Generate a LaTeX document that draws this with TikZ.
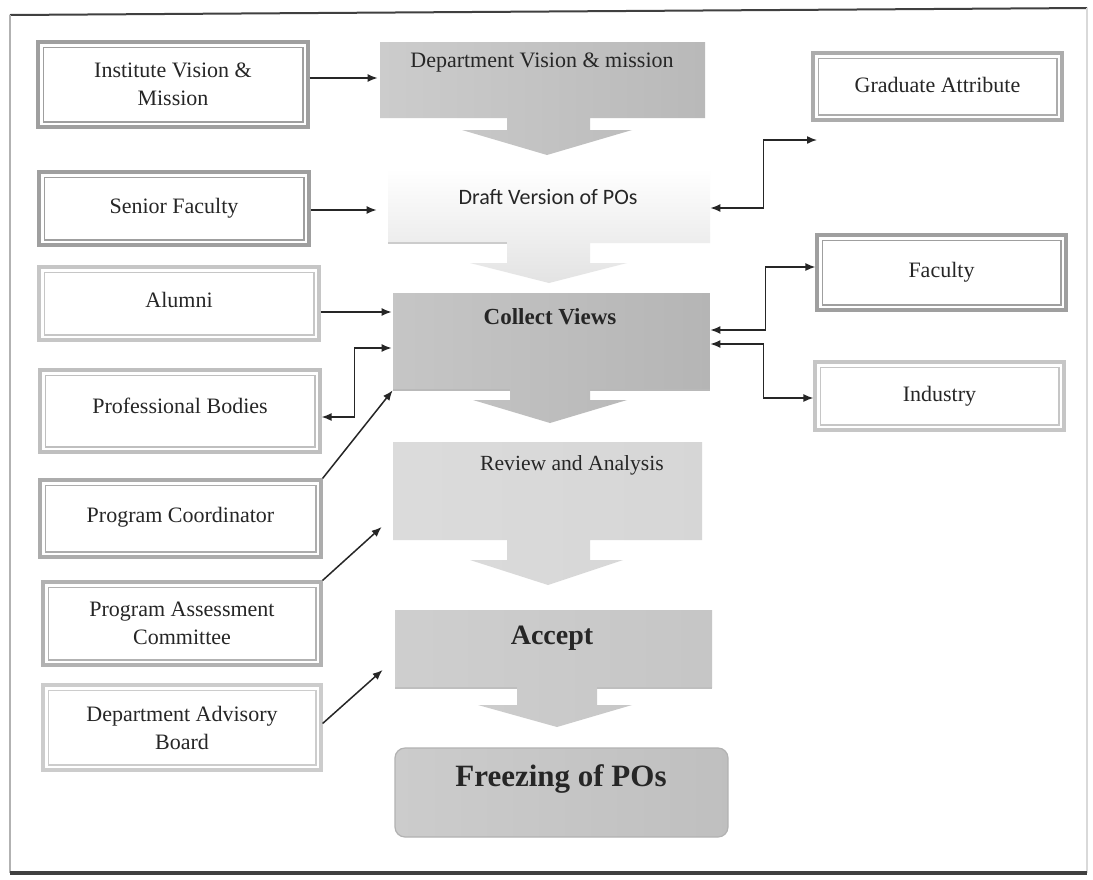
\documentclass[tikz,border=0pt]{standalone}
\usepackage{fontspec}
\setmainfont{Liberation Serif}
\newfontfamily\calibfont{Carlito}
\usetikzlibrary{arrows.meta,calc}
\tikzset{
  sidebox/.style={draw=#1, line width=1.6pt, fill=white, inner sep=0pt, align=center,
    font=\fontsize{11}{14}\selectfont, text=black!85,
    path picture={\draw[#1, line width=0.7pt]
      ([shift={(2.6pt,-2.6pt)}]path picture bounding box.north west) rectangle
      ([shift={(-2.6pt,2.6pt)}]path picture bounding box.south east);}},
  midarea/.style={inner sep=0pt, draw=none},
  midtext/.style={font=\fontsize{11}{13}\selectfont, text=black!85, inner sep=0pt},
  conn/.style={draw=black!85, line width=0.75pt, -{Latex[length=5pt,width=4pt]}},
  bconn/.style={draw=black!85, line width=0.75pt, {Latex[length=5pt,width=4pt]}-{Latex[length=5pt,width=4pt]}},
}
\begin{document}
\begin{tikzpicture}[x=0.5pt,y=-0.5pt]
\useasboundingbox (0,0) rectangle (1093,879);
\fill[white] (0,0) rectangle (1093,879);
% frame
\draw[black!75, line width=1pt] (10,15) -- (1087,8);
\draw[gray!60, line width=0.8pt] (10,15) -- (10,873);
\draw[gray!30, line width=0.6pt] (1087,8) -- (1087,873);
\draw[black!75, line width=1.6pt] (10,873) -- (1087,873);

% middle shapes
\path[shade, left color=gray!40, middle color=gray!18, right color=gray!55]
  (380,42) -- (705,42) -- (705,118) -- (590,118) -- (590,130) -- (632,130) -- (547,155)
  -- (462,130) -- (507,130) -- (507,118) -- (380,118) -- cycle;
\path[shade, top color=white, bottom color=gray!22]
  (388,168) -- (710,168) -- (710,243) -- (590,243) -- (590,263) -- (627,263) -- (549,283)
  -- (470,263) -- (507,263) -- (507,243) -- (388,243) -- cycle;
\path[shade, left color=gray!45, middle color=gray!32, right color=gray!58]
  (393,293) -- (710,293) -- (710,390) -- (590,390) -- (590,400) -- (627,400) -- (550,423)
  -- (473,400) -- (510,400) -- (510,390) -- (393,390) -- cycle;
\path[shade, left color=gray!28, middle color=gray!12, right color=gray!32]
  (393,442) -- (702,442) -- (702,540) -- (590,540) -- (590,560) -- (623,560) -- (548,585)
  -- (470,560) -- (507,560) -- (507,540) -- (393,540) -- cycle;
\path[shade, left color=gray!38, middle color=gray!28, right color=gray!45]
  (395,610) -- (712,610) -- (712,688) -- (597,688) -- (597,705) -- (632,705) -- (557,727)
  -- (478,705) -- (517,705) -- (517,688) -- (395,688) -- cycle;
\draw[gray!55, line width=0.8pt] (393,390) -- (510,390) (590,390) -- (710,390);
\draw[gray!50, line width=0.8pt] (395,688) -- (517,688) (597,688) -- (712,688);
\draw[gray!40, line width=0.6pt] (388,243) -- (507,243);

% named areas of the middle column
\node[midarea, minimum width=162.5pt, minimum height=38pt] (dv) at (542.5,80) {};
\node[midarea, minimum width=161pt, minimum height=37.5pt] (dr) at (549,205.5) {};
\node[midarea, minimum width=158.5pt, minimum height=48.5pt] (cv) at (551.5,341.5) {};
\node[midarea, minimum width=154.5pt, minimum height=49pt] (rv) at (547.5,491) {};
\node[midarea, minimum width=158.5pt, minimum height=39pt] (ac) at (553.5,649) {};
\node[draw=gray!60, line width=0.6pt, rounded corners=5pt,
  shade, left color=gray!40, middle color=gray!30, right color=gray!50,
  minimum width=166.5pt, minimum height=44.5pt, inner sep=0pt] (fz) at (561.5,792.5) {};

\node[midtext] (dvt) at (542,63) {Department Vision \& mission};
\node[midtext, font=\calibfont\fontsize{11}{13}\selectfont] (drt) at (548,197) {Draft Version of POs};
\node[midtext, font=\bfseries\fontsize{11.5}{13}\selectfont] (cvt) at (550,317) {Collect Views};
\node[midtext, font=\fontsize{10.8}{13}\selectfont] (rvt) at (572,465) {Review and Analysis};
\node[midtext, font=\bfseries\fontsize{14}{16}\selectfont] (act) at (552,638) {Accept};
\node[midtext, font=\bfseries\fontsize{15.5}{18}\selectfont] (fzt) at (561,779) {Freezing of POs};

% left boxes
\node[sidebox=gray!75, minimum width=135pt, minimum height=42.5pt] (inst) at (173,84.5) {Institute Vision \&\\ Mission};
\node[sidebox=gray!75, minimum width=135pt, minimum height=36.5pt] (sf) at (174,208.5) {\raisebox{3pt}{Senior Faculty}};
\node[sidebox=gray!45, minimum width=140pt, minimum height=36.5pt] (al) at (179,303.5) {\raisebox{3.5pt}{Alumni}};
\node[sidebox=gray!50, minimum width=140pt, minimum height=41pt] (pb) at (180,411) {\raisebox{5.5pt}{Professional Bodies}};
\node[sidebox=gray!65, minimum width=140.5pt, minimum height=38.5pt] (pc) at (180.5,518.5) {\raisebox{4pt}{Program Coordinator}};
\node[sidebox=gray!60, minimum width=139pt, minimum height=41.5pt] (pac) at (182,623.5) {Program Assessment\\ Committee};
\node[sidebox=gray!40, minimum width=139pt, minimum height=42.5pt] (dab) at (182,727.5) {Department Advisory\\ Board};

% right boxes
\node[sidebox=gray!65, minimum width=124.5pt, minimum height=33.5pt] (ga) at (937.5,86.5) {\raisebox{1.5pt}{Graduate Attribute}};
\node[sidebox=gray!75, minimum width=124.5pt, minimum height=37.5pt] (fac) at (941.5,272.5) {\raisebox{2.5pt}{Faculty}};
\node[sidebox=gray!45, minimum width=124.5pt, minimum height=34pt] (ind) at (939.5,396) {\raisebox{1.5pt}{Industry}};

% connectors, left
\draw[conn] ([yshift=3.25pt]inst.east) -- ([xshift=-1pt,yshift=1pt]dv.west);
\draw[conn] ([yshift=-0.75pt]sf.east) -- ([xshift=-5.5pt,yshift=-2.25pt]dr.west);
\draw[conn] ([yshift=-4.25pt]al.east) -- ([xshift=-0.5pt,yshift=14.75pt]cv.west);
\draw[bconn] ([yshift=-3pt]pb.east) -- ++(33,0) |- ([xshift=-0.5pt,yshift=-3.25pt]cv.west);
\draw[conn] (pc.north east) -- (cv.south west);
\draw[conn] (pac.north east) -- ([xshift=-5.5pt,yshift=-18pt]rv.west);
\draw[conn] ([yshift=2pt]dab.east) -- ([xshift=-6pt,yshift=-10.5pt]ac.west);

% connectors, right
\coordinate (gaend) at (817,140);
\draw[bconn] ([yshift=-1.25pt]dr.east) -- ++(53,0) |- (gaend);
\draw[bconn] ([yshift=5.75pt]cv.east) -- ++(55,0) |- ([yshift=2.75pt]fac.west);
\draw[bconn] ([yshift=-1.25pt]cv.east) -- ++(53,0) |- ([yshift=-1pt]ind.west);
\end{tikzpicture}
\end{document}
